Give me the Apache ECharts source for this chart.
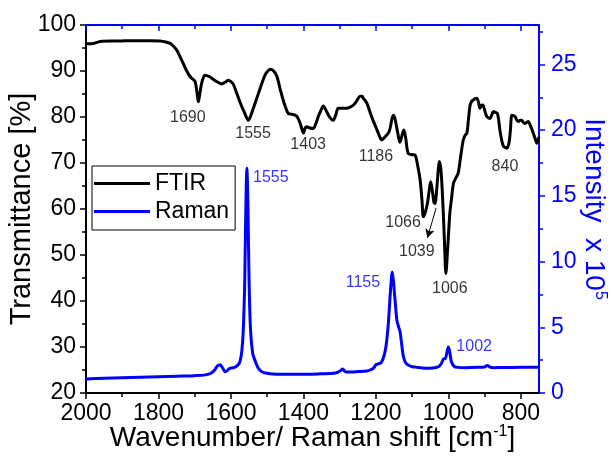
<!DOCTYPE html>
<html><head><meta charset="utf-8">
<script src="https://cdn.jsdelivr.net/npm/echarts@6/dist/echarts.min.js"></script>
<style>html,body{margin:0;padding:0;background:#fff}#c{width:612px;height:461px}</style>
</head><body><div id="c"></div><script>
// ---- data ----
const ftirWavenumber = [2000,1985,1961,1930,1906,1880,1851,1820,1796,1780,1768,1760,1750,1740,1732,1722,1713,1705,1699,1694,1690,1686,1681,1676,1672,1660,1649,1637,1626,1615,1607,1600,1594,1585,1575,1563,1552,1540,1529,1517,1506,1497,1490,1481,1473,1465,1456,1448,1442,1432,1423,1416,1409,1404,1400,1395,1391,1382,1373,1366,1359,1352,1345,1338,1331,1324,1318,1311,1304,1292,1281,1270,1262,1253,1244,1238,1235,1230,1225,1216,1207,1197,1190,1184,1176,1170,1165,1161,1156,1152,1148,1143,1138,1134,1128,1123,1118,1111,1100,1092,1085,1078,1073,1069,1063,1058,1053,1049,1044,1040,1037,1032,1028,1025,1020,1014,1010,1007,1002,996,991,986,979,973,966,959,954,949,944,940,935,931,926,922,917,913,909,905,900,894,885,880,876,870,865,861,858,853,848,843,839,833,829,825,820,816,811,807,802,798,793,789,784,780,773,766,761,756,750];
const ftirTransmittance = [96.0,95.9,96.4,96.5,96.5,96.6,96.6,96.6,96.5,96.3,96.0,95.5,94.6,93.0,91.7,90.0,88.8,88.2,87.7,85.5,83.3,85.0,87.3,88.6,89.1,88.8,88.2,87.6,87.2,87.6,88.0,87.7,87.2,85.4,83.2,81.0,79.3,81.5,84.0,86.8,89.1,90.1,90.4,89.9,88.8,86.3,83.7,81.8,80.8,80.6,80.4,79.9,78.6,77.3,76.5,77.6,77.9,77.6,77.5,78.5,80.1,81.4,82.4,81.5,80.4,79.6,79.3,80.4,81.9,81.9,81.9,82.2,82.6,83.5,84.5,84.5,84.1,83.6,83.0,81.0,79.1,77.2,75.8,75.0,75.6,76.1,76.6,77.5,79.5,80.4,79.8,77.9,75.8,74.5,76.0,77.2,75.5,72.1,71.8,71.7,69.5,66.3,62.0,58.3,59.5,61.2,64.0,65.9,63.8,61.5,61.2,64.5,68.5,70.3,68.0,59.0,51.0,46.0,51.5,59.1,62.5,65.6,66.8,67.8,71.5,75.0,76.0,76.5,80.0,82.6,83.5,83.7,84.0,84.1,83.2,81.9,82.5,82.6,81.5,80.1,79.7,80.5,81.2,81.0,80.8,79.2,77.2,75.0,73.6,73.4,73.2,74.3,77.0,80.4,80.3,80.1,79.3,79.0,79.3,79.3,78.8,78.6,78.8,79.0,78.0,76.5,75.4,74.3,75.7];
const ramanWavenumber = [2000,1950,1900,1850,1800,1750,1700,1670,1655,1645,1638,1630,1622,1616,1610,1603,1595,1589,1580,1575,1570,1566,1562,1559,1556,1553,1550,1546,1540,1534,1525,1515,1500,1483,1450,1410,1360,1318,1305,1298,1292,1286,1281,1250,1225,1212,1207,1200,1195,1186,1178,1172,1166,1161,1157,1155,1152,1147,1142,1137,1133,1128,1124,1118,1111,1100,1088,1075,1060,1045,1032,1025,1019,1013,1009,1004,1000,996,992,985,975,950,920,900,893,886,876,850,800,750];
const ramanIntensity = [1.07,1.12,1.16,1.2,1.24,1.28,1.32,1.38,1.5,1.75,2.05,2.15,1.85,1.62,1.7,1.88,1.92,1.96,2.15,2.4,3.2,4.8,8.5,14.0,17.1,14.0,8.5,4.8,3.0,2.5,1.9,1.62,1.5,1.45,1.43,1.42,1.45,1.5,1.58,1.7,1.82,1.65,1.6,1.63,1.67,1.8,1.88,2.15,2.2,2.3,2.8,3.6,5.2,7.3,8.8,9.2,8.6,7.0,5.5,5.0,4.6,3.5,2.76,2.3,2.13,2.0,1.96,1.92,1.88,1.9,1.96,2.05,2.26,2.6,2.6,3.1,3.5,3.1,2.4,2.05,1.95,1.93,1.95,1.98,2.1,1.98,1.93,1.94,1.95,1.96];
const ftirPeakText = ['1690','1555','1403','1186','1066','1039','1006','840'];
const ftirPeakX = [1719,1539,1387,1200,1125,1087,996,844];
const ftirPeakY = [79.8,76.5,73.9,71.3,57.0,50.7,42.8,69.3];
const ramanPeakText = ['1555','1155','1002'];
const ramanPeakX = [1490,1236,929];
const ramanPeakY = [16.4,8.4,3.5];
const arrowFrom = [1034,60.2];
const arrowTo = [1058,53.7];
const xMajorTicks = [800,1000,1200,1400,1600,1800,2000];
const xMinorTicks = [900,1100,1300,1500,1700,1900];
const rightMajorTicks = [0,5,10,15,20,25];
const rightMinorTicks = [2.5,7.5,12.5,17.5,22.5,27.5];

// ---- chart ----
const BLUE = '#0000ff';
const FONT = 'Liberation Sans, Arial, sans-serif';
const ftirData = ftirWavenumber.map((w,i)=>[w, ftirTransmittance[i]]);
const ramanData = ramanWavenumber.map((w,i)=>[w, ramanIntensity[i]]);
const ftirLabelData = ftirPeakText.map((t,i)=>[ftirPeakX[i], ftirPeakY[i], t]);
const ramanLabelData = ramanPeakText.map((t,i)=>[ramanPeakX[i], ramanPeakY[i], t]);

const xBase = {type:'value', min:750, max:2000, inverse:true, gridIndex:0, splitLine:{show:false}};
const chart = echarts.init(document.getElementById('c'), null, {renderer:'canvas'});
chart.setOption({
  animation:false,
  backgroundColor:'#fff',
  textStyle:{fontFamily:FONT},
  grid:{left:86, right:73, top:25, bottom:68, containLabel:false, outerBoundsMode:'none'},
  legend:{
    data:['FTIR','Raman'], left:92, top:166, orient:'vertical',
    icon:'rect', itemWidth:56, itemHeight:3, itemGap:5,
    padding:[6,6,7,2], borderColor:'#000', borderWidth:1, backgroundColor:'#fff',
    textStyle:{fontSize:23, color:'#000', fontFamily:FONT}
  },
  xAxis:[
    Object.assign({}, xBase, {position:'bottom',
      name:'Wavenumber/ Raman shift [cm{sup|-1}]', nameLocation:'middle', nameGap:31, nameMoveOverlap:false,
      nameTextStyle:{fontSize:28, color:'#000', fontFamily:FONT,
        rich:{sup:{fontSize:16, color:'#000', fontFamily:FONT, verticalAlign:'top', lineHeight:16}}},
      axisLine:{show:true, lineStyle:{color:'#000', width:2}},
      axisTick:{show:true, inside:false, length:6, lineStyle:{color:'#000', width:1.5}, customValues:xMajorTicks},
      axisLabel:{show:true, fontSize:23, color:'#000', margin:9, fontFamily:FONT, customValues:xMajorTicks,
        formatter:v=>String(v)}
    }),
    Object.assign({}, xBase, {position:'bottom',
      axisLine:{show:false}, axisLabel:{show:false},
      axisTick:{show:true, inside:false, length:4, lineStyle:{color:'#000', width:1.5}, customValues:xMinorTicks}
    }),
    Object.assign({}, xBase, {position:'top',
      axisLine:{show:true, lineStyle:{color:BLUE, width:2}}, axisLabel:{show:false},
      axisTick:{show:true, inside:true, length:6, lineStyle:{color:BLUE, width:1.5}, customValues:xMajorTicks}
    }),
    Object.assign({}, xBase, {position:'top',
      axisLine:{show:false}, axisLabel:{show:false},
      axisTick:{show:true, inside:true, length:4, lineStyle:{color:BLUE, width:1.5}, customValues:xMinorTicks}
    })
  ],
  yAxis:[
    {type:'value', position:'left', min:20, max:100, interval:10,
      name:'Transmittance [%]', nameLocation:'middle', nameGap:50, nameMoveOverlap:false,
      nameTextStyle:{fontSize:29, color:'#000', fontFamily:FONT},
      axisLine:{show:true, lineStyle:{color:'#000', width:2}},
      axisTick:{show:true, inside:false, length:6, lineStyle:{color:'#000', width:1.5}},
      minorTick:{show:true, splitNumber:2, length:4, lineStyle:{color:'#000', width:1.5}},
      axisLabel:{fontSize:23, color:'#000', margin:10, fontFamily:FONT},
      splitLine:{show:false}},
    {type:'value', position:'right', min:0, max:28,
      name:'Intensity  x 10{sup|5}', nameLocation:'middle', nameGap:41, nameRotate:-90, nameMoveOverlap:false,
      nameTextStyle:{fontSize:28, color:BLUE, fontFamily:FONT,
        rich:{sup:{fontSize:16, color:BLUE, fontFamily:FONT, verticalAlign:'top', lineHeight:16}}},
      axisLine:{show:true, lineStyle:{color:BLUE, width:2}},
      axisTick:{show:true, inside:false, length:6, lineStyle:{color:BLUE, width:1.5}, customValues:rightMajorTicks},
      axisLabel:{fontSize:23, color:BLUE, margin:12, fontFamily:FONT, customValues:rightMajorTicks},
      splitLine:{show:false}},
    {type:'value', position:'right', min:0, max:28,
      axisLine:{show:false}, axisLabel:{show:false},
      axisTick:{show:true, inside:false, length:4, lineStyle:{color:BLUE, width:1.5}, customValues:rightMinorTicks},
      splitLine:{show:false}}
  ],
  series:[
    {name:'FTIR', type:'line', xAxisIndex:0, yAxisIndex:0, data:ftirData, showSymbol:false, symbol:'none',
      smooth:0.3, lineStyle:{color:'#000', width:3}, itemStyle:{color:'#000'}, z:3,
      markLine:{silent:true, symbol:['none','arrow'], symbolSize:[7,9],
        lineStyle:{color:'#000', width:1, type:'solid'}, label:{show:false},
        data:[[{coord:arrowFrom},{coord:arrowTo}]]}},
    {name:'Raman', type:'line', xAxisIndex:0, yAxisIndex:1, data:ramanData, showSymbol:false, symbol:'none',
      smooth:0.3, lineStyle:{color:BLUE, width:3}, itemStyle:{color:BLUE}, z:2},
    {name:'ftirLabels', type:'scatter', xAxisIndex:0, yAxisIndex:0, data:ftirLabelData, symbolSize:1,
      itemStyle:{color:'rgba(0,0,0,0)'}, silent:true,
      label:{show:true, position:'inside', formatter:p=>p.data[2], fontSize:16, color:'#000', fontFamily:FONT}},
    {name:'ramanLabels', type:'scatter', xAxisIndex:0, yAxisIndex:1, data:ramanLabelData, symbolSize:1,
      itemStyle:{color:'rgba(0,0,0,0)'}, silent:true,
      label:{show:true, position:'inside', formatter:p=>p.data[2], fontSize:16, color:BLUE, fontFamily:FONT}}
  ]
});
</script></body></html>
